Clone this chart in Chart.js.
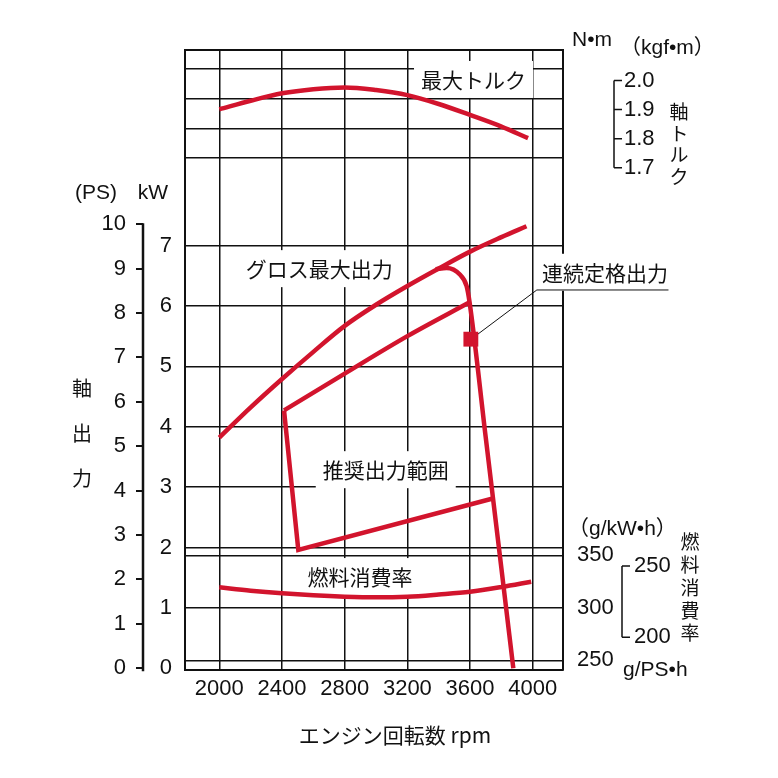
<!DOCTYPE html>
<html>
<head>
<meta charset="utf-8">
<script src="https://cdn.jsdelivr.net/npm/chart.js@4.4.1/dist/chart.umd.min.js"></script>
<style>
  html, body { margin: 0; background: #fff; }
  canvas { display: block; }
</style>
</head>
<body>
<canvas id="chart" width="778" height="778"></canvas>
<script>
// 軸の目盛り
const rpmTicks = [2000, 2400, 2800, 3200, 3600, 4000];
const kwTicks = [0, 1, 2, 3, 4, 5, 6, 7];
const psTicks = [0, 1, 2, 3, 4, 5, 6, 7, 8, 9, 10];
const nmTicks = [17, 18, 19, 20];
const kgfTicks = [2.0, 1.9, 1.8, 1.7];
const gkwhTicks = [250, 300, 350];
const gpshTicks = [250, 200];

// 最大トルク (N·m)
const torqueRpm = [2000, 2200, 2400, 2600, 2800, 3000, 3200, 3400, 3600, 3800, 3970];
const torqueNm = [18.64, 18.93, 19.18, 19.32, 19.38, 19.29, 19.12, 18.82, 18.45, 18.06, 17.67];

// グロス最大出力 (kW)
const grossRpm = [2000, 2200, 2400, 2600, 2800, 3000, 3200, 3400, 3600, 3800, 3960];
const grossKw = [3.82, 4.32, 4.79, 5.24, 5.67, 6.02, 6.33, 6.62, 6.90, 7.14, 7.32];

// ガバナ線 (kW)
const governorRpm = [3380, 3450, 3535, 3578, 3597, 3700, 3800, 3876];
const governorKw = [6.61, 6.63, 6.52, 6.33, 6.06, 3.82, 1.65, 0];

// 連続定格出力線 (kW)
const continuousRpm = [2413, 2800, 3200, 3597];
const continuousKw = [4.27, 4.88, 5.50, 6.06];

// 推奨出力範囲の左辺と下辺 (kW)
const rangeRpm = [2413, 2504, 3745];
const rangeKw = [4.27, 1.96, 2.81];

// 連続定格点
const ratedRpm = [3605];
const ratedKw = [5.45];

// 燃料消費率 (g/kW·h)
const fuelRpm = [2000, 2200, 2400, 2600, 2800, 3000, 3200, 3400, 3600, 3800, 3990];
const fuelGkwh = [319.5, 316.3, 313.8, 311.9, 310.6, 310.0, 310.6, 312.7, 315.3, 319.8, 324.9];

const KGF = 9.80665;      // N·m per kgf·m
const PS = 0.73549875;    // kW per PS

const RED = '#d2142d';
const INK = '#111';
const NUM = "'Liberation Sans', 'Noto Sans CJK JP', sans-serif";
const JP = "'Noto Sans CJK JP', sans-serif";

const pts = (xs, ys) => xs.map((x, i) => ({ x: x, y: ys[i] }));
const onlyTicks = values => scale => { scale.ticks = values.map(v => ({ value: v })); };

function curve(data, axis, extra) {
  return Object.assign({
    data: data, yAxisID: axis,
    borderColor: RED, backgroundColor: RED, borderWidth: 4.5,
    pointRadius: 0, fill: false,
    cubicInterpolationMode: 'monotone'
  }, extra || {});
}

function labelBox(ctx, text, x, y) {
  ctx.font = '21px ' + JP;
  const w = ctx.measureText(text).width;
  ctx.fillStyle = '#fff';
  ctx.fillRect(x - w / 2 - 7, y - 19, w + 14, 37);
  ctx.fillStyle = INK;
  ctx.textAlign = 'center';
  ctx.textBaseline = 'middle';
  ctx.fillText(text, x, y);
}

function vText(ctx, text, x, y0, step) {
  ctx.textAlign = 'center';
  ctx.textBaseline = 'middle';
  [...text].forEach((c, i) => ctx.fillText(c, x, y0 + i * step));
}

const decor = {
  id: 'decor',
  beforeDatasetsDraw(chart) {
    const { ctx, chartArea: a, scales: s } = chart;
    const X = v => s.x.getPixelForValue(v);
    ctx.save();
    ctx.strokeStyle = INK;
    ctx.lineWidth = 2;
    ctx.beginPath();
    ctx.moveTo(a.left, a.top);
    ctx.lineTo(a.right, a.top);
    ctx.stroke();

    labelBox(ctx, '最大トルク', X(3622), s.yNm.getPixelForValue(19.63));
    labelBox(ctx, 'グロス最大出力', X(2637), s.yKW.getPixelForValue(6.61));
    labelBox(ctx, '推奨出力範囲', X(3062), s.yKW.getPixelForValue(3.28));
    labelBox(ctx, '燃料消費率', X(2898), s.yFuel.getPixelForValue(329.3));
    labelBox(ctx, '連続定格出力', X(4461), s.yKW.getPixelForValue(6.55));

    // 引出線
    const yk = v => s.yKW.getPixelForValue(v);
    ctx.strokeStyle = INK;
    ctx.lineWidth = 1;
    ctx.beginPath();
    ctx.moveTo(X(3643), yk(5.52));
    ctx.lineTo(X(4026), yk(6.265));
    ctx.lineTo(X(4866), yk(6.265));
    ctx.stroke();
    ctx.restore();
  },
  afterDraw(chart) {
    const { ctx, chartArea: a, scales: s } = chart;
    ctx.save();
    ctx.strokeStyle = INK;
    ctx.fillStyle = INK;

    // PS 軸の線
    const px = s.yPS.right;
    ctx.lineWidth = 2.5;
    ctx.beginPath();
    ctx.moveTo(px, s.yPS.getPixelForValue(10) - 1);
    ctx.lineTo(px, s.yPS.getPixelForValue(0) + 3);
    ctx.stroke();

    // 単位
    ctx.font = '21px ' + NUM;
    ctx.textBaseline = 'middle';
    ctx.textAlign = 'center';
    ctx.fillText('(PS)', 96, 193);
    ctx.fillText('kW', 153, 193);
    ctx.textAlign = 'left';
    ctx.fillText('N•m', 572, 40);
    ctx.fillText('（kgf•m）', 620, 48);
    ctx.fillText('（g/kW•h）', 568, 529);
    ctx.fillText('g/PS•h', 623, 670);

    // kgf·m の括弧
    ctx.font = '22px ' + NUM;
    ctx.lineWidth = 1.5;
    const kx = a.right + 51;
    const ky = v => s.yNm.getPixelForValue(v * KGF);
    ctx.beginPath();
    ctx.moveTo(kx, ky(kgfTicks[0]));
    ctx.lineTo(kx, ky(kgfTicks[kgfTicks.length - 1]));
    kgfTicks.forEach(v => { ctx.moveTo(kx, ky(v)); ctx.lineTo(kx + 8, ky(v)); });
    ctx.stroke();
    kgfTicks.forEach(v => ctx.fillText(v.toFixed(1), kx + 10, ky(v)));

    // g/PS·h の括弧
    const fx = a.right + 59;
    const fy = v => s.yFuel.getPixelForValue(v / PS);
    ctx.beginPath();
    ctx.moveTo(fx, fy(gpshTicks[0]));
    ctx.lineTo(fx, fy(gpshTicks[gpshTicks.length - 1]));
    gpshTicks.forEach(v => { ctx.moveTo(fx, fy(v)); ctx.lineTo(fx + 8, fy(v)); });
    ctx.stroke();
    gpshTicks.forEach(v => ctx.fillText(String(v), fx + 12, fy(v)));

    // 縦書きの軸名
    ctx.font = '20px ' + JP;
    vText(ctx, '軸出力', 82, 388, 45);
    ctx.font = '19px ' + JP;
    vText(ctx, '軸トルク', 679, 112, 21.5);
    vText(ctx, '燃料消費率', 690, 542, 22.8);

    ctx.font = '21px ' + JP;
    ctx.textAlign = 'center';
    ctx.fillText('エンジン回転数 rpm', 395, 735);
    ctx.restore();
  }
};

new Chart(document.getElementById('chart'), {
  type: 'line',
  data: {
    datasets: [
      curve(pts(ratedRpm, ratedKw), 'yKW', {
        showLine: false, pointStyle: 'rect', pointRadius: 10.5,
        pointBorderWidth: 0, borderWidth: 0
      }),
      curve(pts(torqueRpm, torqueNm), 'yNm'),
      curve(pts(grossRpm, grossKw), 'yKW'),
      curve(pts(governorRpm, governorKw), 'yKW'),
      curve(pts(continuousRpm, continuousKw), 'yKW'),
      curve(pts(rangeRpm, rangeKw), 'yKW', { cubicInterpolationMode: 'default', tension: 0, borderJoinStyle: 'miter' }),
      curve(pts(fuelRpm, fuelGkwh), 'yFuel')
    ]
  },
  options: {
    responsive: false,
    animation: false,
    events: [],
    layout: { padding: { top: 50, left: 0, right: 0, bottom: 0 } },
    plugins: { legend: { display: false }, tooltip: { enabled: false } },
    scales: {
      x: {
        type: 'linear', position: 'bottom', min: 1781, max: 4193,
        afterBuildTicks: onlyTicks(rpmTicks),
        afterFit: sc => { sc.height = 108; },
        grid: { color: INK, lineWidth: 1.5, drawTicks: false },
        border: { color: INK, width: 2 },
        ticks: { color: INK, font: { size: 22, family: NUM }, padding: 6, maxRotation: 0, autoSkip: false, callback: v => String(v) }
      },
      yKW: {
        type: 'linear', position: 'left', min: -0.03, max: 10.24,
        afterBuildTicks: onlyTicks(kwTicks),
        afterFit: sc => { sc.width = 42; },
        grid: { color: c => (c.tick && c.tick.value === 0 ? 'rgba(0,0,0,0)' : INK), lineWidth: 1.5, drawTicks: false },
        border: { color: INK, width: 2 },
        ticks: { color: INK, font: { size: 22, family: NUM }, padding: 13, autoSkip: false, callback: v => String(v) }
      },
      yPS: {
        type: 'linear', position: 'left', min: -0.03 / PS, max: 10.24 / PS,
        afterBuildTicks: onlyTicks(psTicks),
        afterFit: sc => { sc.width = 143; },
        grid: { drawOnChartArea: false, drawTicks: true, tickLength: 7, color: INK, lineWidth: 2 },
        border: { display: false },
        ticks: { color: INK, font: { size: 22, family: NUM }, padding: 10, autoSkip: false, callback: v => String(v) }
      },
      yNm: {
        type: 'linear', position: 'right', min: -0.256, max: 20.640,
        afterBuildTicks: onlyTicks(nmTicks),
        afterFit: sc => { sc.width = 0; },
        grid: { color: INK, lineWidth: 1.5, drawTicks: false },
        border: { color: INK, width: 2 },
        ticks: { color: INK, font: { size: 22, family: NUM }, padding: 9, autoSkip: false, callback: v => String(v) }
      },
      yFuel: {
        type: 'linear', position: 'right', min: 240.8, max: 831.2,
        afterBuildTicks: onlyTicks(gkwhTicks),
        afterFit: sc => { sc.width = 215; },
        grid: { color: c => (c.tick && c.tick.value === 300 ? 'rgba(0,0,0,0)' : INK), lineWidth: 1.5, drawTicks: false },
        border: { display: false },
        ticks: { color: INK, font: { size: 22, family: NUM }, padding: 14, autoSkip: false, callback: v => String(v) }
      }
    }
  },
  plugins: [decor]
});
</script>
</body>
</html>
